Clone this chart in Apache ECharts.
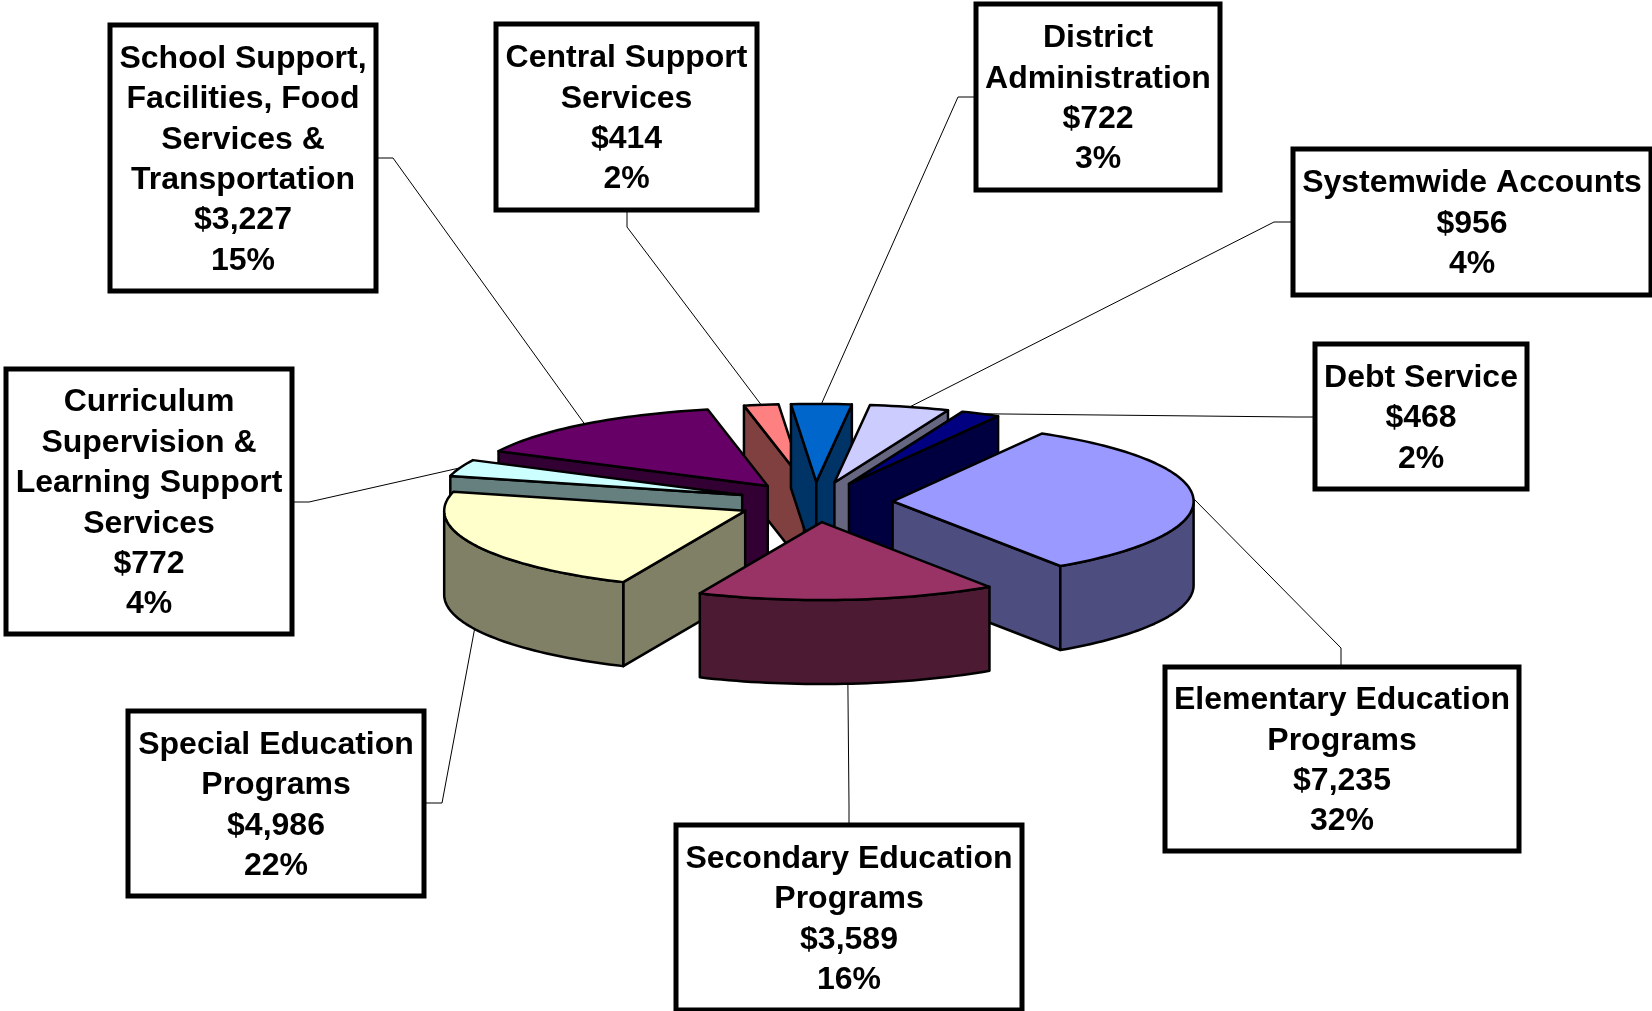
<!DOCTYPE html>
<html>
<head>
<meta charset="utf-8">
<title>Budget by program</title>
<style>html,body{margin:0;padding:0;background:#fff}#chart{width:1652px;height:1011px}</style>
<script src="https://cdn.jsdelivr.net/npm/echarts@6/dist/echarts.min.js"></script>
</head>
<body>
<div id="chart"></div>
<script>
// Data, in pie order (clockwise)
const categories = [
  'Elementary Education\nPrograms',
  'Secondary Education\nPrograms',
  'Special Education\nPrograms',
  'Curriculum\nSupervision &\nLearning Support\nServices',
  'School Support,\nFacilities, Food\nServices &\nTransportation',
  'Central Support\nServices',
  'District\nAdministration',
  'Systemwide Accounts',
  'Debt Service'
];
const amounts = [7235, 3589, 4986, 772, 3227, 414, 722, 956, 468];
const amountLabels = ['$7,235', '$3,589', '$4,986', '$772', '$3,227', '$414', '$722', '$956', '$468'];
const percentLabels = ['32%', '16%', '22%', '4%', '15%', '2%', '3%', '4%', '2%'];

// Styles
const topColors = ['#9999FF', '#993366', '#FFFFCC', '#CCFFFF', '#660066', '#FF8080', '#0066CC', '#CCCCFF', '#000080'];
const wallColors = ['#4D4D80', '#4D1A33', '#808066', '#668080', '#330033', '#804040', '#003366', '#666680', '#000040'];

// Layout
const PIE = { cx: 815, cy: 502, rx: 301, ry: 78, depth: 84, explode: 0.258, startDeg: 29.7 };
const drawOrder = [5, 6, 7, 8, 4, 3, 2, 0, 1];
const boxes = [ // x0, y0, x1, y1 of each label box
  [1165, 667, 1519, 851],
  [676, 825, 1022, 1010],
  [128, 711, 424, 896],
  [6, 369, 292, 634],
  [110, 25, 376, 291],
  [496, 24, 757, 210],
  [976, 4, 1220, 190],
  [1293, 149, 1651, 295],
  [1315, 344, 1527, 489]
];
const leaderStarts = [[1341, 667], [849, 825], [424, 803], [292, 502], [376, 158], [627, 210], [976, 97], [1293, 222], [1315, 417]];
const leaderElbows = [[1341, 648], [849, 806], [442, 803], [309, 502], [393, 158], [627, 227], [958, 97], [1274, 222], [1296, 417]];
const TEXT_DROP = 2;

const total = amounts.reduce((a, b) => a + b, 0);
const RAD = Math.PI / 180;
const angles = [];
amounts.reduce((acc, v) => {
  const sweep = v / total * 360;
  angles.push([acc, acc + sweep]);
  return acc + sweep;
}, PIE.startDeg);

function apex(i) {
  const mid = (angles[i][0] + angles[i][1]) / 2 * RAD;
  return [
    PIE.cx + Math.sin(mid) * PIE.rx * PIE.explode,
    PIE.cy - Math.cos(mid) * PIE.ry * PIE.explode
  ];
}
function rimPoint(c, deg, drop) {
  return [c[0] + Math.sin(deg * RAD) * PIE.rx, c[1] - Math.cos(deg * RAD) * PIE.ry + (drop || 0)];
}
function arc(c, a0, a1, drop) {
  const n = Math.max(2, Math.ceil((a1 - a0) / 1.5));
  const pts = [];
  for (let k = 0; k <= n; k++) pts.push(rimPoint(c, a0 + (a1 - a0) * k / n, drop));
  return pts;
}
const faceStyle = (fill) => ({ fill, stroke: '#000', lineWidth: 2.5, lineJoin: 'round' });
function poly(points, fill) {
  return { type: 'polygon', shape: { points }, style: faceStyle(fill) };
}

function renderSlice(params, api) {
  const i = api.value(0);
  const [a0, a1] = angles[i];
  const c = apex(i);
  const d = PIE.depth;
  const cBottom = [c[0], c[1] + d];
  const children = [];
  const radial = (deg) => {
    const p = rimPoint(c, deg);
    children.push(poly([c, p, [p[0], p[1] + d], cBottom], wallColors[i]));
  };
  if (Math.sin(a0 * RAD) < 0) radial(a0);
  if (Math.sin(a1 * RAD) > 0) radial(a1);
  // outer wall: only the part of the rim that faces the viewer
  const w0 = Math.max(a0, 90), w1 = Math.min(a1, 270);
  if (w1 > w0) {
    children.push(poly(arc(c, w0, w1, 0).concat(arc(c, w0, w1, d).reverse()), wallColors[i]));
  }
  children.push(poly([c].concat(arc(c, a0, a1, 0)), topColors[i]));
  return { type: 'group', children };
}

function renderLabel(params, api) {
  const i = api.value(0);
  const [x0, y0, x1, y1] = boxes[i];
  const mid = (angles[i][0] + angles[i][1]) / 2;
  const facing = Math.cos(mid * RAD) < 0;
  const anchor = rimPoint(apex(i), mid, facing ? PIE.depth : 0);
  const text = categories[i] + '\n' + amountLabels[i] + '\n' + percentLabels[i];
  return {
    type: 'group',
    children: [
      { type: 'polyline', shape: { points: [leaderStarts[i], leaderElbows[i], anchor] },
        style: { stroke: '#000', lineWidth: 1, fill: null } },
      { type: 'rect', shape: { x: x0, y: y0, width: x1 - x0, height: y1 - y0 },
        style: { fill: '#fff', stroke: '#000', lineWidth: 5 } },
      { type: 'text', style: {
          text, x: (x0 + x1) / 2, y: (y0 + y1) / 2 + TEXT_DROP,
          fill: '#000', font: 'bold 32px "Liberation Sans", Arial, sans-serif',
          align: 'center', verticalAlign: 'middle', lineHeight: 40.4 } }
    ]
  };
}

const chart = echarts.init(document.getElementById('chart'), null, { renderer: 'canvas' });
chart.setOption({
  animation: false,
  backgroundColor: '#ffffff',
  series: [
    { type: 'custom', coordinateSystem: 'none', silent: true, z: 1, clip: false,
      renderItem: renderLabel,
      data: amounts.map((v, i) => [i, v]) },
    { type: 'custom', coordinateSystem: 'none', silent: true, z: 2, clip: false,
      renderItem: renderSlice,
      data: drawOrder.map((i) => [i, amounts[i]]) }
  ]
});
</script>
</body>
</html>
